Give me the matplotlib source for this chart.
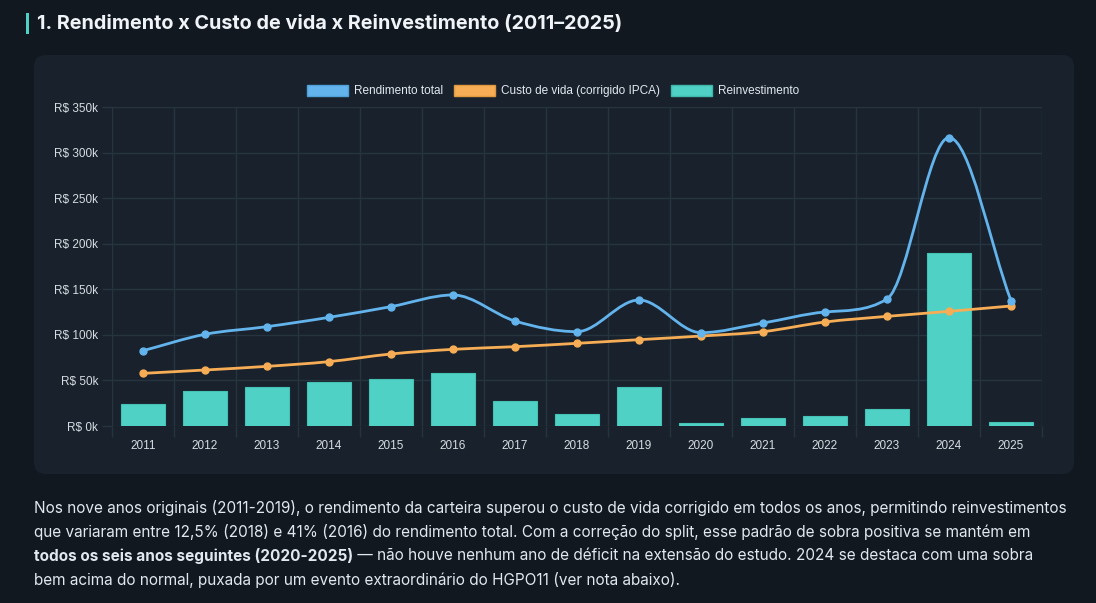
import numpy as np
import matplotlib
matplotlib.use("Agg")
import matplotlib.pyplot as plt
from matplotlib.path import Path
from matplotlib.patches import PathPatch, FancyBboxPatch, Patch, Rectangle

# data (R$ mil)
years = [2011, 2012, 2013, 2014, 2015, 2016, 2017, 2018, 2019, 2020, 2021, 2022, 2023, 2024, 2025]
rendimento = [82.7, 100.7, 109.1, 119.3, 131.1, 143.9, 115.3, 103.6, 138.4, 102.5, 113.1, 125.2, 139.5, 316.7, 137.7]
custo_vida = [57.8, 61.5, 65.5, 70.7, 79.1, 84.2, 87.1, 90.8, 94.8, 98.8, 103.6, 114.2, 120.4, 125.9, 131.8]
reinvest = [24.2, 38.4, 43.2, 48.0, 51.6, 58.6, 27.5, 12.8, 42.8, 3.3, 8.8, 11.0, 18.3, 189.6, 4.8]
y_ticks = [0, 50, 100, 150, 200, 250, 300, 350]

c_blue = "#63b3ed"
c_orange = "#f6ad55"
c_teal = "#4fd1c5"
c_bg = "#111820"
c_card = "#19222c"
c_grid = "#26343f"
c_tick = "#d6dce2"
c_text = "#e2e8f0"

W, H = 1096, 603
fig = plt.figure(figsize=(W / 100, H / 100), dpi=100, facecolor=c_bg)

# card
card = FancyBboxPatch((0.34, 1.29), 10.40, 4.19, boxstyle="round,pad=0,rounding_size=0.12",
                      transform=fig.dpi_scale_trans, facecolor=c_card, edgecolor="none", zorder=0)
fig.patches.append(card)

# title
fig.patches.append(Rectangle((26 / W, 1 - 34 / H), 3 / W, 21 / H, transform=fig.transFigure,
                             facecolor=c_teal, edgecolor="none"))
fig.text(37 / W, 1 - 24 / H, "1. Rendimento x Custo de vida x Reinvestimento (2011\u20132025)",
         family="Inter", weight="bold", fontsize=14.25, color="#f0f4f8", va="center", ha="left")

ax = fig.add_axes([112 / W, 1 - 426 / H, 930 / W, 318.7 / H])
ax.set_facecolor("none")
ax.set_zorder(2)

x = np.arange(len(years))
ax.bar(x, reinvest, width=0.72, color=c_teal, edgecolor="#45c2b6", linewidth=0.8, zorder=2)


def monotone_path(xs, ys):
    # monotone cubic, same rule as Chart.js 'monotone' mode
    xs = np.asarray(xs, float)
    ys = np.asarray(ys, float)
    n = len(xs)
    delta = np.diff(ys) / np.diff(xs)
    m = np.zeros(n)
    m[0] = delta[0]
    m[-1] = delta[-1]
    for i in range(1, n - 1):
        if delta[i - 1] * delta[i] > 0:
            m[i] = (delta[i - 1] + delta[i]) / 2
    for i in range(n - 1):
        if abs(delta[i]) < 1e-12:
            m[i] = m[i + 1] = 0
            continue
        a = m[i] / delta[i]
        b = m[i + 1] / delta[i]
        sq = a * a + b * b
        if sq <= 9:
            continue
        tau = 3 / np.sqrt(sq)
        m[i] = a * tau * delta[i]
        m[i + 1] = b * tau * delta[i]
    verts = [(xs[0], ys[0])]
    codes = [Path.MOVETO]
    for i in range(n - 1):
        dx = (xs[i + 1] - xs[i]) / 3
        verts += [(xs[i] + dx, ys[i] + m[i] * dx),
                  (xs[i + 1] - dx, ys[i + 1] - m[i + 1] * dx),
                  (xs[i + 1], ys[i + 1])]
        codes += [Path.CURVE4] * 3
    return Path(verts, codes)


for vals, col in [(custo_vida, c_orange), (rendimento, c_blue)]:
    ax.add_patch(PathPatch(monotone_path(x, vals), facecolor="none", edgecolor=col,
                           linewidth=2.0, zorder=3, capstyle="round", joinstyle="round"))
    ax.plot(x, vals, linestyle="none", marker="o", markersize=5, color=col, zorder=4)

ax.set_xlim(-0.5, len(years) - 0.5)
ax.set_ylim(0, 350)
ax.set_yticks(y_ticks)
ax.set_yticklabels([f"R$ {v}k" for v in y_ticks])
ax.set_xticks(x)
ax.set_xticklabels([str(y) for y in years])
ax.set_xticks(np.arange(-0.5, len(years)), minor=True)
ax.grid(axis="y", color=c_grid, linewidth=1, zorder=0)
ax.grid(axis="x", which="minor", color=c_grid, linewidth=1, zorder=0)
ax.tick_params(axis="x", which="major", length=0, pad=10, labelsize=8.5, labelcolor=c_tick)
ax.tick_params(axis="x", which="minor", length=8, color=c_grid, width=1)
ax.tick_params(axis="y", length=7, color=c_grid, width=1, pad=3, labelsize=8.5, labelcolor=c_tick)
for lab in ax.get_xticklabels() + ax.get_yticklabels():
    lab.set_family("Liberation Sans")
for s in ax.spines.values():
    s.set_visible(False)

handles = [Patch(facecolor=c_blue, edgecolor="#4f9fd8", label="Rendimento total"),
           Patch(facecolor=c_orange, edgecolor="#e0993f", label="Custo de vida (corrigido IPCA)"),
           Patch(facecolor=c_teal, edgecolor="#3fb7ac", label="Reinvestimento")]
leg = fig.legend(handles=handles, loc="center", bbox_to_anchor=(553 / W, 1 - 91 / H), ncol=3,
                 frameon=False, handlelength=3.5, handleheight=1.1, handletextpad=0.5,
                 columnspacing=0.9, prop={"family": "Liberation Sans", "size": 8.5})
for t in leg.get_texts():
    t.set_color(c_text)

# paragraph
fs = 11.05
lines = [
    [("Nos nove anos originais (2011-2019), o rendimento da carteira superou o custo de vida corrigido em todos os anos, permitindo reinvestimentos", "normal")],
    [("que variaram entre 12,5% (2018) e 41% (2016) do rendimento total. Com a corre\u00e7\u00e3o do split, esse padr\u00e3o de sobra positiva se mant\u00e9m em", "normal")],
    [("todos os seis anos seguintes (2020-2025)", "bold"),
     (" \u2014 n\u00e3o houve nenhum ano de d\u00e9ficit na extens\u00e3o do estudo. 2024 se destaca com uma sobra", "normal")],
    [("bem acima do normal, puxada por um evento extraordin\u00e1rio do HGPO11 (ver nota abaixo).", "normal")],
]
renderer = fig.canvas.get_renderer()
for k, parts in enumerate(lines):
    xpos = 34 / W
    yc = 1 - (508 + 24 * k) / H
    for txt, wt in parts:
        tt = fig.text(xpos, yc, txt, family="Inter", weight=wt, fontsize=fs, color=c_text,
                      va="center", ha="left")
        bb = tt.get_window_extent(renderer=renderer)
        xpos += bb.width / W

fig.savefig("out.png", dpi=100, facecolor=c_bg)
